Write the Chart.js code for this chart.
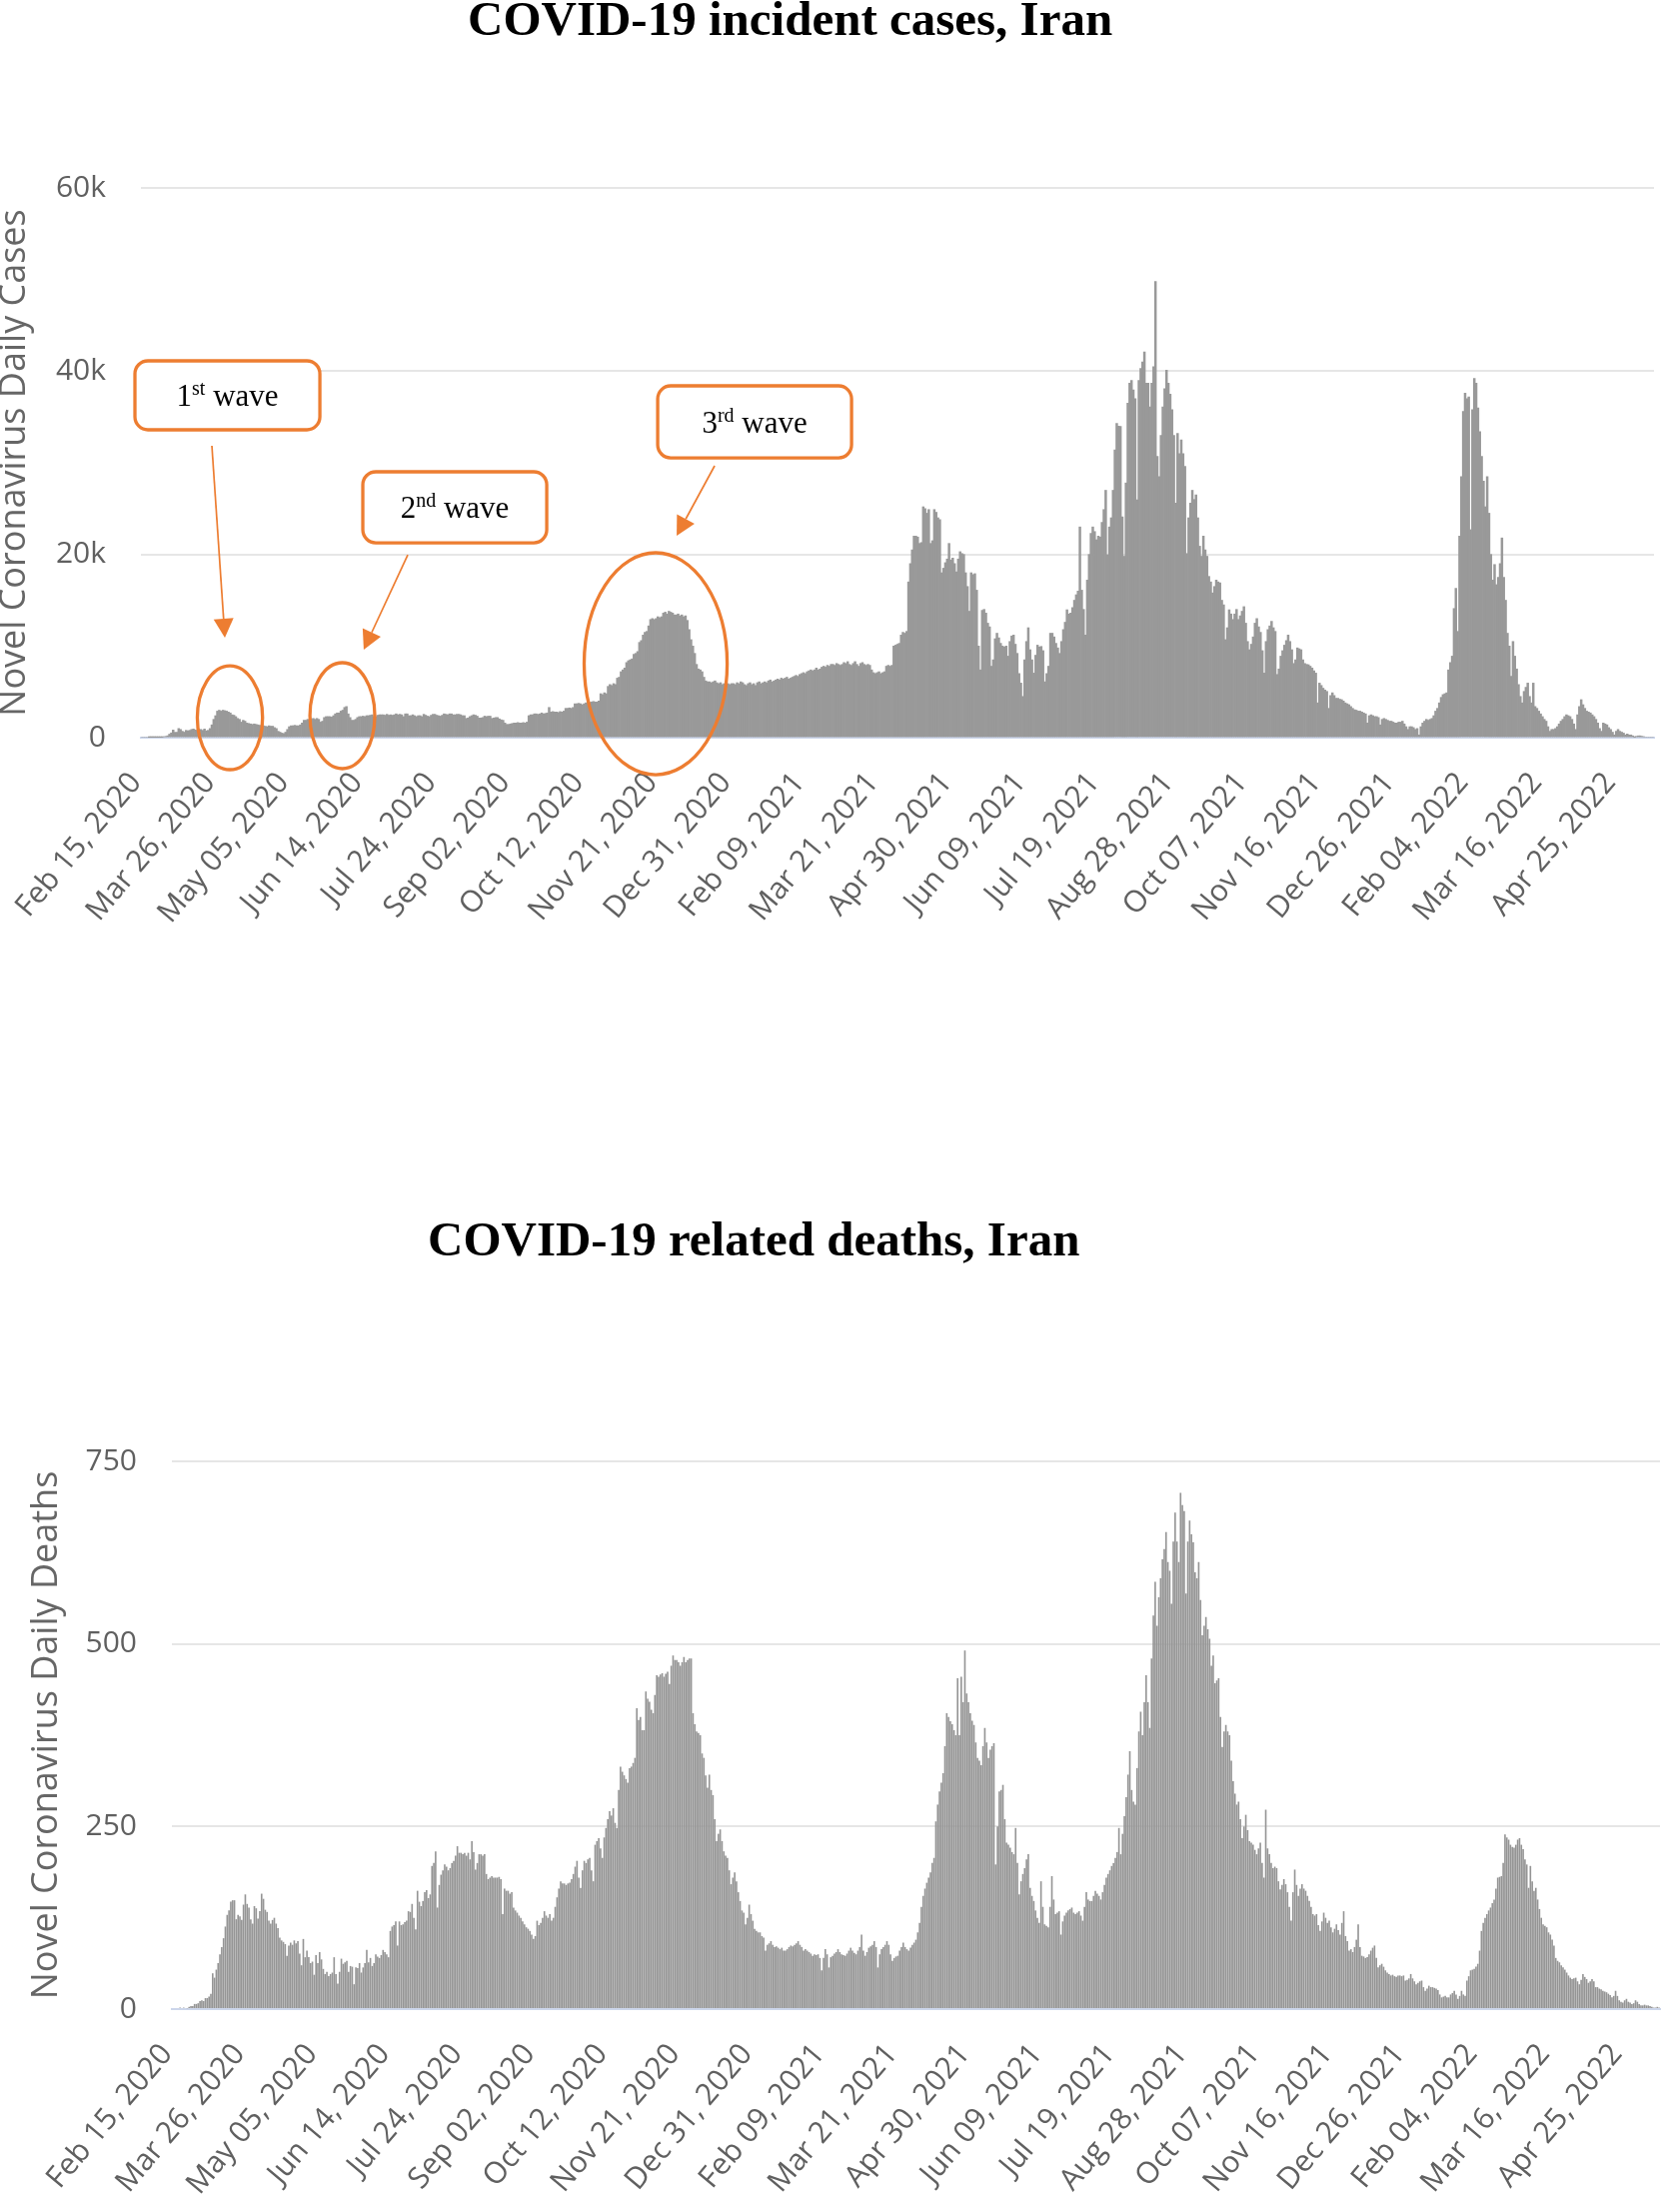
<!DOCTYPE html>
<html>
<head>
<meta charset="utf-8">
<script src="https://cdn.jsdelivr.net/npm/chart.js@4.4.1/dist/chart.umd.min.js"></script>
<style>
  html, body { margin: 0; padding: 0; background: #ffffff; }
  body { width: 1663px; height: 2213px; position: relative; overflow: hidden; }
  .wrap { position: absolute; left: 0; }
  .title { position: absolute; font-family: "Liberation Serif", "Times New Roman", serif; font-weight: bold;
           font-size: 49px; line-height: 49px; white-space: nowrap; color: #000; }
</style>
</head>
<body>
<div class="wrap" style="top:0;width:1663px;height:1000px"><canvas id="casesChart" width="1663" height="1000"></canvas></div>
<div class="wrap" style="top:1150px;width:1663px;height:1063px"><canvas id="deathsChart" width="1663" height="1063"></canvas></div>
<div class="title" style="left:468px;top:-6px">COVID-19 incident cases, Iran</div>
<div class="title" style="left:428px;top:1215px">COVID-19 related deaths, Iran</div>
<script>
// ---------------- DATA ----------------
// Daily new cases, Iran, in thousands (Feb 15, 2020 ... May 15, 2022), one row per month
const CASES_K = [
  0,0,0,0,0.002,0.003,0.013,0.010,0.015,0.018,0.034,0.044,0.106,0.143,0.205,
  0.385,0.523,0.835,0.586,0.591,1.0,0.9,0.7,0.6,0.8,0.75,0.8,0.9,0.95,0.85,0.8,0.85,0.9,0.8,0.95,0.75,0.8,1.0,1.4,2.0,2.4,2.9,3.0,2.9,3.0,2.95,
  2.9,2.8,2.7,2.5,2.45,2.3,2.1,2.0,1.7,1.9,1.8,1.6,1.55,1.5,1.45,1.5,1.45,1.4,1.35,1.3,1.3,1.25,1.2,1.3,1.25,1.25,1.1,1.0,0.7,0.6,
  0.5,0.45,0.6,0.9,1.2,1.3,1.3,1.35,1.3,1.3,1.4,1.6,1.9,1.9,2.0,1.9,2.0,2.1,2.0,2.1,2.0,1.7,1.8,2.2,2.3,2.3,2.3,2.25,2.4,2.6,2.7,
  2.7,2.9,3.0,3.3,3.4,2.6,2.2,1.9,1.9,2.0,2.2,2.3,2.3,2.35,2.3,2.4,2.4,2.45,2.5,2.3,2.3,2.45,2.5,2.5,2.5,2.45,2.55,2.45,2.5,2.45,
  2.5,2.6,2.5,2.55,2.5,2.3,2.6,2.6,2.4,2.4,2.5,2.4,2.3,2.4,2.4,2.3,2.55,2.45,2.35,2.3,2.45,2.55,2.55,2.45,2.4,2.35,2.45,2.6,2.55,2.5,2.6,
  2.6,2.5,2.5,2.55,2.55,2.5,2.4,2.4,2.1,2.15,2.3,2.4,2.5,2.45,2.35,2.15,2.15,2.2,2.35,2.3,2.35,2.35,2.1,2.15,2.2,2.2,2.05,1.95,1.9,1.6,1.45,
  1.45,1.5,1.55,1.6,1.6,1.65,1.6,1.6,1.65,1.6,1.7,2.4,2.5,2.5,2.6,2.6,2.55,2.6,2.7,2.6,2.65,2.7,3.3,2.8,2.85,2.8,2.8,2.75,2.85,2.8,
  2.9,3.2,3.2,3.25,3.2,3.3,3.7,3.7,3.75,3.7,3.6,3.7,3.8,3.9,3.85,3.9,3.95,3.9,3.9,4.0,4.8,4.7,4.9,4.8,5.6,5.8,5.7,5.9,5.8,6.5,6.6,
  7.2,7.4,7.6,8.2,8.4,8.5,8.6,9.1,9.2,9.4,10.4,10.6,11.2,11.5,11.6,12.2,12.9,13.0,12.9,13.0,13.2,13.1,13.2,13.6,13.7,13.5,13.8,13.7,13.6,13.4,
  13.4,13.5,13.3,13.4,13.2,13.3,12.8,11.8,10.7,10.0,9.2,8.0,7.5,7.4,7.2,6.6,6.2,6.1,6.1,6.0,6.1,6.2,6.0,5.9,6.0,5.8,5.9,6.0,5.9,5.8,5.9,
  5.9,5.8,6.0,5.9,6.1,6.0,5.8,5.7,5.9,6.0,5.8,5.9,5.7,6.0,6.1,5.9,6.0,6.1,6.0,6.2,6.3,6.1,6.2,6.3,6.4,6.3,6.5,6.4,6.5,6.6,6.4,
  6.5,6.6,6.7,6.8,6.7,6.9,7.0,7.1,7.0,7.2,7.3,7.4,7.3,7.4,7.6,7.4,7.5,7.7,7.8,7.7,7.9,7.8,8.0,8.0,7.9,8.1,8.0,7.9,
  8.0,8.2,8.1,8.3,8.0,7.9,8.1,8.3,8.0,7.8,8.1,8.2,8.0,7.9,8.0,7.9,7.4,7.1,7.0,7.1,7.2,7.0,7.1,7.2,7.8,7.9,7.8,7.9,10.0,10.1,10.2,
  10.3,11.2,11.5,11.4,11.6,17.0,19.0,20.5,22.0,22.0,21.9,21.2,21.3,25.2,25.0,24.5,24.9,21.2,21.5,24.9,24.6,24.0,23.8,18.0,18.5,19.1,19.5,21.2,19.4,19.6,
  19.0,18.1,19.5,20.3,20.1,20.0,18.0,16.5,13.8,18.0,17.8,17.9,16.1,10.0,7.4,13.9,14.0,13.6,12.5,12.1,7.8,8.5,10.8,11.4,10.9,10.3,10.0,9.9,10.0,8.9,10.5,
  11.1,11.2,10.2,9.2,7.0,5.96,4.5,8.5,10.5,12.0,9.6,8.5,7.05,9.0,10.1,9.9,9.96,9.5,6.1,7.0,7.8,11.4,11.4,11.0,10.3,9.8,9.2,10.5,11.8,12.6,
  13.96,13.5,13.6,14.2,15.0,15.6,16.0,23.0,16.1,14.0,11.2,17.2,20.0,22.3,23.0,22.5,21.6,22.0,21.9,23.5,24.9,27.0,19.96,23.0,24.0,27.0,31.4,34.3,34.0,33.96,24.1,
  19.8,27.8,36.5,38.7,39.0,37.96,37.0,25.96,39.0,40.3,41.0,42.1,38.7,38.7,36.1,38.7,40.5,49.8,30.7,28.5,33.0,36.1,38.1,40.1,38.7,37.5,35.8,33.0,25.6,33.2,31.0,
  32.5,31.0,29.6,20.1,24.0,25.6,27.0,26.0,26.5,24.0,20.9,19.8,22.0,20.5,19.8,17.6,17.0,15.8,16.5,17.2,17.0,16.9,15.0,14.5,10.7,12.0,13.96,13.5,12.9,13.5,
  14.0,12.9,13.3,13.8,14.3,12.5,10.5,9.6,10.2,11.0,12.5,13.0,12.1,11.5,9.5,7.05,10.5,11.8,12.2,12.7,12.0,11.6,6.9,7.5,8.9,9.5,10.1,10.6,11.2,10.5,9.6,
  8.1,8.5,9.8,9.7,9.6,8.5,8.1,8.0,7.96,7.8,7.6,7.3,7.05,3.8,5.96,5.7,5.4,5.2,5.05,3.2,4.6,4.9,4.6,4.3,4.3,4.2,4.15,4.0,3.8,3.7,
  3.6,3.4,3.2,3.05,3.0,2.9,2.9,2.8,2.7,2.6,1.6,2.4,2.5,2.4,2.3,2.3,2.2,1.4,2.0,2.1,2.0,1.9,1.8,1.8,1.7,1.6,1.6,1.7,1.7,1.8,1.5,
  1.2,0.9,1.2,1.2,1.1,0.9,1.0,0.3,1.2,1.6,1.8,2.0,1.9,2.0,2.1,2.4,2.9,3.2,3.8,4.4,4.7,4.8,4.9,7.4,8.2,8.9,14.1,16.3,11.6,22.0,28.5,
  35.6,37.6,37.0,37.2,22.7,35.8,39.2,38.7,36.0,33.4,30.7,28.0,25.2,28.5,24.5,20.0,17.2,18.9,16.7,17.5,19.0,21.8,17.5,15.0,11.4,10.0,6.7,10.5,
  8.9,7.5,5.8,4.5,3.8,5.05,5.5,5.96,4.5,3.8,5.96,3.4,3.2,2.9,2.6,2.3,2.0,1.8,1.2,0.7,0.9,0.9,1.0,1.2,1.5,1.8,2.0,2.3,2.5,2.4,2.3,
  2.0,1.5,0.9,2.5,3.4,4.15,3.6,3.2,2.9,2.8,2.7,2.5,2.3,2.0,1.6,1.0,0.7,1.6,1.5,1.4,1.1,0.9,0.6,0.3,0.7,0.9,0.7,0.6,0.5,0.3,
  0.4,0.3,0.3,0.2,0.05,0.15,0.2,0.2,0.15,0.1,0,0,0,0,0
];

// Daily deaths, Iran (same days), one row per month
const DEATHS = [
  0,0,0,0,2,0,2,0,1,3,4,4,7,7,8,
  11,12,11,15,15,17,21,49,43,54,63,75,85,97,113,129,135,147,149,149,123,129,127,122,143,157,144,139,123,117,141,
  138,124,134,158,151,136,133,121,117,122,125,117,111,98,94,92,89,73,87,91,88,94,90,93,76,60,96,71,80,71,
  63,65,47,74,63,78,68,55,48,51,45,48,50,71,48,35,51,69,62,64,66,51,59,58,34,57,56,63,50,57,63,
  81,64,70,59,63,75,72,70,74,81,78,75,71,107,113,115,120,87,120,115,116,119,121,134,133,144,125,109,162,147,
  141,148,160,163,152,157,196,200,216,139,170,184,190,198,195,190,193,200,203,210,223,214,214,212,214,210,214,205,230,215,191,
  200,212,212,210,212,185,178,180,182,180,180,180,181,178,130,165,162,162,158,160,139,135,132,128,125,120,116,112,110,107,102,
  96,100,121,115,118,125,134,128,125,130,121,125,140,153,165,175,172,172,170,172,173,178,185,195,203,180,166,190,203,200,
  205,207,190,175,225,230,234,220,207,235,248,260,271,265,275,255,248,300,332,325,320,315,310,330,332,337,344,412,396,400,382,
  382,435,425,421,410,405,430,457,455,458,460,455,459,462,445,470,484,478,478,475,470,475,482,475,478,480,480,405,390,380,
  378,375,350,344,320,303,321,300,293,260,230,240,246,230,216,210,207,190,171,180,187,175,160,148,135,132,116,125,143,130,121,
  110,107,105,105,100,98,80,88,90,93,88,85,86,84,82,84,80,80,82,85,87,86,88,90,93,88,85,80,82,80,78,
  76,73,75,74,75,70,53,70,82,75,57,71,73,76,78,82,78,75,74,73,76,80,84,80,77,75,80,85,
  102,80,73,78,84,86,88,93,85,57,75,82,85,88,93,88,75,66,70,72,73,80,85,91,85,82,80,84,88,91,95,
  105,118,140,155,165,173,180,187,200,207,257,280,298,310,323,360,405,400,394,390,382,375,453,375,455,420,491,432,420,405,
  395,389,365,344,340,334,360,385,365,344,355,360,364,198,250,298,300,307,260,228,225,221,215,212,248,200,157,175,185,193,205,
  212,166,155,148,135,125,118,175,140,116,114,112,140,182,150,130,132,134,102,120,128,132,135,137,139,132,130,132,134,128,
  121,140,160,150,148,148,155,162,158,155,150,160,170,180,185,190,196,200,207,215,248,212,240,264,290,321,353,300,284,280,330,
  380,407,375,420,457,420,385,480,539,585,525,564,590,616,630,653,612,600,555,640,680,640,612,707,690,682,569,640,669,650,639,
  598,590,612,560,512,525,537,520,507,470,484,446,450,453,400,359,380,389,380,375,340,312,295,280,284,260,234,250,266,245,
  230,228,225,218,212,220,228,200,180,273,220,212,200,193,195,193,175,164,170,178,171,160,140,121,160,191,170,155,165,171,165,
  162,155,148,140,130,128,130,115,107,120,132,125,118,121,112,105,110,116,108,102,118,134,100,93,80,82,78,85,95,116,
  85,73,72,70,71,75,80,84,87,70,57,60,62,58,53,50,48,46,47,45,44,46,46,45,46,39,40,42,48,42,38,
  34,36,38,39,30,25,28,32,30,30,29,28,26,20,16,17,18,16,16,20,22,25,20,14,18,25,20,18,39,45,53,
  54,55,58,62,80,107,118,125,130,135,139,145,150,165,180,181,182,200,239,235,232,225,222,221,225,232,234,225,
  219,205,198,166,196,175,162,166,150,137,125,116,114,112,105,102,95,87,70,66,64,60,57,54,50,46,43,41,42,43,38,
  34,40,48,44,41,36,38,41,38,30,30,28,27,25,24,23,21,19,16,18,25,18,12,10,9,12,14,10,9,7,
  8,12,10,7,5,5,6,5,5,4,3,2,2,3,2
];

// Shown x tick labels (every 40th day)
const TICK_LABELS = ['Feb 15, 2020','Mar 26, 2020','May 05, 2020','Jun 14, 2020','Jul 24, 2020','Sep 02, 2020',
  'Oct 12, 2020','Nov 21, 2020','Dec 31, 2020','Feb 09, 2021','Mar 21, 2021','Apr 30, 2021','Jun 09, 2021',
  'Jul 19, 2021','Aug 28, 2021','Oct 07, 2021','Nov 16, 2021','Dec 26, 2021','Feb 04, 2022','Mar 16, 2022','Apr 25, 2022'];

// Categories: one per day starting Feb 15, 2020
const MONTHS = ['Jan','Feb','Mar','Apr','May','Jun','Jul','Aug','Sep','Oct','Nov','Dec'];
const CATEGORIES = [];
for (let i = 0; i < CASES_K.length; i++) {
  const d = new Date(Date.UTC(2020, 1, 15 + i));
  CATEGORIES.push(MONTHS[d.getUTCMonth()] + ' ' + String(d.getUTCDate()).padStart(2, '0') + ', ' + d.getUTCFullYear());
}

// Wave annotations (data space: x = day index, y = thousands of cases)
const WAVE_BOXES = [
  { x0: -3.75, x1: 96.6, yTop: 41.13, yBot: 33.6, num: '1', sup: 'st' },
  { x0: 119.9, x1: 219.7, yTop: 29.02, yBot: 21.27, num: '2', sup: 'nd' },
  { x0: 279.9, x1: 385.1, yTop: 38.4, yBot: 30.54, num: '3', sup: 'rd' }
];
const WAVE_ARROWS = [
  { fx: 38.0, fy: 31.85, tx: 45.05, ty: 10.91 },
  { fx: 144.3, fy: 19.96, tx: 120.4, ty: 9.6 },
  { fx: 310.8, fy: 29.67, tx: 290.2, ty: 22.04 }
];
const WAVE_RINGS = [
  { cx: 47.8, cy: 2.18, rx: 17.7, ry: 5.67 },
  { cx: 108.8, cy: 2.4, rx: 17.6, ry: 5.78 },
  { cx: 278.8, cy: 8.07, rx: 38.8, ry: 12.11 }
];

// ---------------- STYLE / RENDER ----------------
const TICK_SET = new Set(TICK_LABELS);
const ORANGE = '#ED7D31';
const TICK_COLOR = '#606060';
const TICK_FONT = { family: 'Open Sans', size: 30, lineHeight: 1.0 };

const wavePlugin = {
  id: 'waves',
  afterDatasetsDraw(chart) {
    const { ctx, scales: { x, y } } = chart;
    const px = v => x.getPixelForValue(v);
    const py = v => y.getPixelForValue(v);
    const ux = px(1) - px(0), uy = py(0) - py(1);
    ctx.save();
    ctx.strokeStyle = ORANGE; ctx.fillStyle = ORANGE;
    ctx.lineWidth = 3.3;
    WAVE_RINGS.forEach(r => {
      ctx.beginPath();
      ctx.ellipse(px(r.cx), py(r.cy), r.rx * ux, r.ry * uy, 0, 0, Math.PI * 2);
      ctx.stroke();
    });
    WAVE_ARROWS.forEach(a => {
      const x1 = px(a.fx), y1 = py(a.fy), x2 = px(a.tx), y2 = py(a.ty);
      const L = Math.hypot(x2 - x1, y2 - y1), dx = (x2 - x1) / L, dy = (y2 - y1) / L;
      const head = 19, half = 10;
      ctx.lineWidth = 1.7;
      ctx.beginPath(); ctx.moveTo(x1, y1); ctx.lineTo(x2 - dx * head, y2 - dy * head); ctx.stroke();
      ctx.beginPath();
      ctx.moveTo(x2, y2);
      ctx.lineTo(x2 - dx * head - dy * half, y2 - dy * head + dx * half);
      ctx.lineTo(x2 - dx * head + dy * half, y2 - dy * head - dx * half);
      ctx.closePath(); ctx.fill();
    });
    WAVE_BOXES.forEach(b => {
      const l = px(b.x0), r = px(b.x1), t = py(b.yTop), bt = py(b.yBot);
      ctx.lineWidth = 3.3;
      ctx.fillStyle = '#ffffff';
      ctx.beginPath(); ctx.roundRect(l, t, r - l, bt - t, 13); ctx.fill(); ctx.stroke();
      const mainFont = '31px "Liberation Serif", "Times New Roman", serif';
      const supFont = '20px "Liberation Serif", "Times New Roman", serif';
      ctx.font = mainFont; const wNum = ctx.measureText(b.num).width; const wRest = ctx.measureText(' wave').width;
      ctx.font = supFont; const wSup = ctx.measureText(b.sup).width;
      let cx = (l + r) / 2 - (wNum + wSup + wRest) / 2;
      const base = (t + bt) / 2 + 10.5;
      ctx.fillStyle = '#000'; ctx.textBaseline = 'alphabetic'; ctx.textAlign = 'left';
      ctx.font = mainFont; ctx.fillText(b.num, cx, base); cx += wNum;
      ctx.font = supFont; ctx.fillText(b.sup, cx, base - 11); cx += wSup;
      ctx.font = mainFont; ctx.fillText(' wave', cx, base);
      ctx.fillStyle = ORANGE;
    });
    ctx.restore();
  }
};

function makeChart(id, values, cfg) {
  return new Chart(document.getElementById(id), {
    type: 'bar',
    data: {
      labels: CATEGORIES,
      datasets: [{ data: values, backgroundColor: cfg.barColor, borderWidth: 0,
                   barPercentage: cfg.barPct, categoryPercentage: 1.0 }]
    },
    options: {
      responsive: false, animation: false, devicePixelRatio: 1,
      layout: { padding: cfg.padding },
      plugins: { legend: { display: false }, tooltip: { enabled: false }, title: { display: false } },
      scales: {
        x: {
          grid: { display: false, drawTicks: false },
          border: { display: true, color: '#ccd6eb', width: 2 },
          ticks: { autoSkip: false, minRotation: 50, maxRotation: 50, padding: 30, labelOffset: -6,
                   color: TICK_COLOR, font: TICK_FONT,
                   callback: (v, i) => TICK_SET.has(CATEGORIES[i]) ? CATEGORIES[i] : '' },
          afterFit: s => { s.height = cfg.xHeight; s.paddingLeft = 0; s.paddingRight = 0; }
        },
        y: {
          min: 0, max: cfg.yMax,
          grid: { color: '#e6e6e6', lineWidth: 2, drawTicks: false },
          border: { display: false },
          ticks: { stepSize: cfg.yStep, padding: 35, color: TICK_COLOR, font: { family: 'Open Sans', size: 30 },
                   callback: cfg.yFmt },
          title: { display: true, text: cfg.yTitle, color: '#666666', padding: 0,
                   font: { family: 'Open Sans', size: 36, lineHeight: 0.8 } },
          afterFit: s => { s.width = cfg.yWidth; s.paddingTop = 0; s.paddingBottom = 0; }
        }
      }
    },
    plugins: cfg.plugins || []
  });
}

makeChart('casesChart', CASES_K, {
  barColor: '#999999', barPct: 1.0,
  padding: { left: 0, right: 8, top: 188, bottom: 0 },
  xHeight: 262, yWidth: 141, yMax: 60, yStep: 20,
  yFmt: v => (v === 0 ? '0' : v + 'k'),
  yTitle: 'Novel Coronavirus Daily Cases',
  plugins: [wavePlugin]
});

makeChart('deathsChart', DEATHS, {
  barColor: '#959595', barPct: 0.9,
  padding: { left: 32, right: 2, top: 312, bottom: 0 },
  xHeight: 203, yWidth: 140, yMax: 750, yStep: 250,
  yFmt: v => String(v),
  yTitle: 'Novel Coronavirus Daily Deaths'
});
</script>
</body>
</html>
